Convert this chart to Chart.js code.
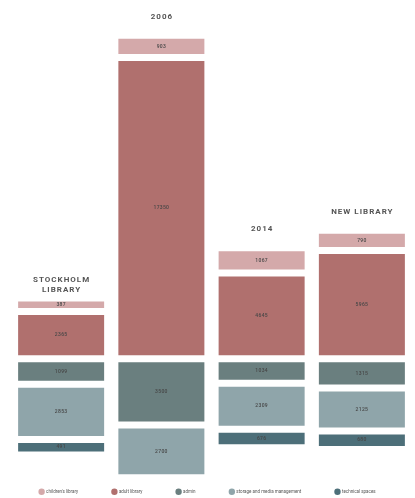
<!DOCTYPE html>
<html>
<head>
<meta charset="utf-8">
<script src="https://cdn.jsdelivr.net/npm/chart.js@4/dist/chart.umd.min.js"></script>
<style>
  html, body { margin: 0; padding: 0; background: #ffffff; }
  #wrap { width: 415px; height: 498px; position: relative; }
</style>
</head>
<body>
<div id="wrap"><canvas id="c"></canvas></div>
<script>
// Library floor areas by function
const categories = [['STOCKHOLM', 'LIBRARY'], '2006', '2014', 'NEW LIBRARY'];
const childrensLibrary = [387, 903, 1067, 790];
const adultLibrary = [2365, 17350, 4645, 5965];
const admin = [1099, 3500, 1034, 1315];
const storageMedia = [2853, 2700, 2309, 2125];
const technicalSpaces = [491, null, 676, 680];

const seriesNames = ["children's library", 'adult library', 'admin', 'storage and media management', 'technical spaces'];
const seriesColors = ['#d4a9aa', '#b0706e', '#6a7f7f', '#8fa5aa', '#4d6f79'];

// white space between stacked blocks, in value units
const GAP = 410;

// Blocks above the baseline: adult first, children on top.
// Blocks below the baseline: admin, then storage, then technical.
function buildRanges() {
  const out = [[], [], [], [], []];
  categories.forEach((_, i) => {
    let up = GAP / 2;
    const a = adultLibrary[i];
    out[1].push([up, up + a]);
    up += a + GAP;
    const c = childrensLibrary[i];
    out[0].push([up, up + c]);

    let down = -GAP / 2;
    const downSeries = [[admin, 2], [storageMedia, 3], [technicalSpaces, 4]];
    downSeries.forEach(([arr, k]) => {
      const v = arr[i];
      if (v == null) { out[k].push(null); return; }
      out[k].push([down - v, down]);
      down -= v + GAP;
    });
  });
  return out;
}

const ranges = buildRanges();
const rawValues = [childrensLibrary, adultLibrary, admin, storageMedia, technicalSpaces];

const datasets = seriesNames.map((name, k) => ({
  label: name,
  data: ranges[k],
  values: rawValues[k],
  backgroundColor: seriesColors[k],
  borderWidth: 0,
  grouped: false,
  clip: false,
  barPercentage: 0.858,
  categoryPercentage: 1
}));

// value text centred in each block
const valueLabels = {
  id: 'valueLabels',
  afterDatasetsDraw(chart) {
    const ctx = chart.ctx;
    ctx.save();
    ctx.font = '500 5px Roboto';
    ctx.fillStyle = '#474747';
    ctx.textAlign = 'center';
    ctx.textBaseline = 'middle';
    ctx.letterSpacing = '0.3px';
    chart.data.datasets.forEach((ds, k) => {
      const meta = chart.getDatasetMeta(k);
      meta.data.forEach((el, i) => {
        const v = ds.values[i];
        if (v == null) return;
        const { x, y, base } = el.getProps(['x', 'y', 'base'], true);
        ctx.fillText(String(v), x, (y + base) / 2);
      });
    });
    ctx.restore();
  }
};

// column headings above the top block of each column
const columnTitles = {
  id: 'columnTitles',
  afterDatasetsDraw(chart) {
    const ctx = chart.ctx;
    const topMeta = chart.getDatasetMeta(0);
    ctx.save();
    ctx.font = 'bold 8px Roboto';
    ctx.fillStyle = '#555555';
    ctx.textAlign = 'center';
    ctx.textBaseline = 'middle';
    ctx.letterSpacing = '1px';
    chart.data.labels.forEach((label, i) => {
      const el = topMeta.data[i];
      const { x, y } = el.getProps(['x', 'y'], true);
      const lines = Array.isArray(label) ? label : [label];
      lines.forEach((line, j) => {
        ctx.fillText(line, x + 0.5, y - 22 + j * 10);
      });
    });
    ctx.restore();
  }
};

// invisible spacer axis of fixed width
function spacer(width, position) {
  return {
    position,
    display: true,
    ticks: { display: false },
    grid: { display: false },
    border: { display: false },
    afterFit(scale) { scale.width = width; }
  };
}

new Chart(document.getElementById('c'), {
  type: 'bar',
  data: { labels: categories, datasets },
  options: {
    responsive: true,
    maintainAspectRatio: false,
    animation: false,
    layout: { padding: { top: 30, left: 0, right: 0, bottom: -6 } },
    scales: {
      x: { display: false, grid: { display: false } },
      y: Object.assign(spacer(11, 'left'), { min: -5710, max: 19379 }),
      yR: spacer(3, 'right')
    },
    plugins: {
      legend: {
        position: 'bottom',
        labels: {
          usePointStyle: true,
          pointStyle: 'circle',
          boxWidth: 6,
          boxHeight: 6,
          padding: 34,
          color: '#555555',
          font: { family: 'Roboto', size: 4.5 }
        }
      },
      tooltip: { enabled: false }
    }
  },
  plugins: [valueLabels, columnTitles]
});
</script>
</body>
</html>
